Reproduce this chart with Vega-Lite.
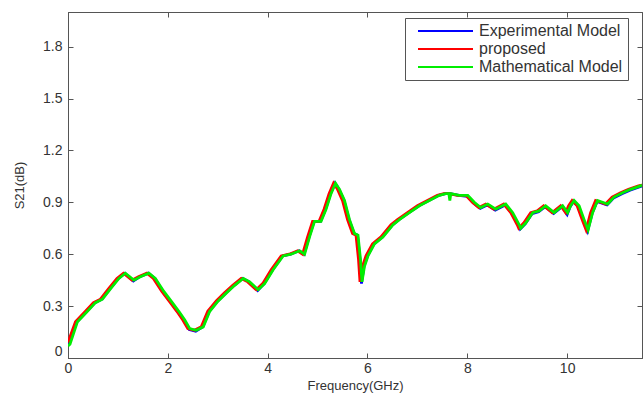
{
  "$schema": "https://vega.github.io/schema/vega-lite/v6.json",
  "width": 574,
  "height": 346,
  "autosize": {"type": "none"},
  "padding": {"left": 68, "top": 12, "right": 1, "bottom": 38},
  "background": "white",
  "config": {
    "view": {"stroke": "#555", "strokeWidth": 1},
    "font": "Liberation Sans",
    "axis": {"domainColor": "#555", "tickColor": "#555", "labelColor": "#333", "titleColor": "#333", "labelFont": "Liberation Sans", "titleFont": "Liberation Sans", "labelFontSize": 14, "titleFontSize": 13, "titleFontWeight": "normal", "grid": false, "tickSize": -5}
  },
  "datasets": {
    "math": [
      {"f":0,"v":0.07},{"f":0.04,"v":0.08},{"f":0.19,"v":0.21},{"f":0.39,"v":0.27},{"f":0.55,"v":0.32},{"f":0.69,"v":0.34},{"f":0.85,"v":0.40},{"f":1.02,"v":0.46},{"f":1.15,"v":0.49},{"f":1.32,"v":0.45},{"f":1.45,"v":0.47},{"f":1.62,"v":0.49},{"f":1.75,"v":0.46},{"f":1.92,"v":0.385},{"f":2.09,"v":0.32},{"f":2.22,"v":0.27},{"f":2.34,"v":0.22},{"f":2.44,"v":0.17},{"f":2.57,"v":0.16},{"f":2.71,"v":0.18},{"f":2.84,"v":0.27},{"f":3.01,"v":0.33},{"f":3.17,"v":0.375},{"f":3.34,"v":0.42},{"f":3.51,"v":0.46},{"f":3.64,"v":0.44},{"f":3.81,"v":0.395},{"f":3.94,"v":0.43},{"f":4.11,"v":0.51},{"f":4.31,"v":0.59},{"f":4.47,"v":0.60},{"f":4.64,"v":0.62},{"f":4.74,"v":0.60},{"f":4.84,"v":0.70},{"f":4.94,"v":0.79},{"f":5.07,"v":0.79},{"f":5.17,"v":0.86},{"f":5.27,"v":0.95},{"f":5.36,"v":1.01},{"f":5.44,"v":0.975},{"f":5.54,"v":0.91},{"f":5.64,"v":0.80},{"f":5.74,"v":0.72},{"f":5.81,"v":0.71},{"f":5.86,"v":0.57},{"f":5.89,"v":0.44},{"f":5.94,"v":0.53},{"f":6.01,"v":0.59},{"f":6.14,"v":0.66},{"f":6.31,"v":0.70},{"f":6.51,"v":0.77},{"f":6.64,"v":0.80},{"f":6.84,"v":0.84},{"f":7.04,"v":0.88},{"f":7.24,"v":0.91},{"f":7.44,"v":0.94},{"f":7.57,"v":0.95},{"f":7.63,"v":0.95},{"f":7.65,"v":0.91},{"f":7.67,"v":0.95},{"f":7.84,"v":0.94},{"f":8.01,"v":0.94},{"f":8.14,"v":0.90},{"f":8.27,"v":0.87},{"f":8.41,"v":0.89},{"f":8.57,"v":0.86},{"f":8.77,"v":0.89},{"f":8.91,"v":0.84},{"f":9.04,"v":0.77},{"f":9.07,"v":0.75},{"f":9.17,"v":0.78},{"f":9.31,"v":0.84},{"f":9.44,"v":0.85},{"f":9.57,"v":0.88},{"f":9.74,"v":0.84},{"f":9.91,"v":0.88},{"f":10.01,"v":0.84},{"f":10.07,"v":0.88},{"f":10.14,"v":0.91},{"f":10.24,"v":0.88},{"f":10.34,"v":0.80},{"f":10.42,"v":0.74},{"f":10.51,"v":0.84},{"f":10.61,"v":0.91},{"f":10.71,"v":0.90},{"f":10.81,"v":0.89},{"f":10.94,"v":0.93},{"f":11.11,"v":0.955},{"f":11.27,"v":0.975},{"f":11.47,"v":0.995},{"f":11.5,"v":1.0}
    ],
    "prop": [
      {"f":0,"v":0.09},{"f":0.15,"v":0.21},{"f":0.35,"v":0.27},{"f":0.51,"v":0.32},{"f":0.65,"v":0.34},{"f":0.81,"v":0.40},{"f":0.98,"v":0.46},{"f":1.11,"v":0.49},{"f":1.28,"v":0.45},{"f":1.41,"v":0.47},{"f":1.58,"v":0.49},{"f":1.71,"v":0.46},{"f":1.88,"v":0.385},{"f":2.05,"v":0.32},{"f":2.18,"v":0.27},{"f":2.30,"v":0.22},{"f":2.40,"v":0.17},{"f":2.53,"v":0.16},{"f":2.67,"v":0.18},{"f":2.80,"v":0.27},{"f":2.97,"v":0.33},{"f":3.13,"v":0.375},{"f":3.30,"v":0.42},{"f":3.47,"v":0.46},{"f":3.60,"v":0.44},{"f":3.77,"v":0.395},{"f":3.90,"v":0.43},{"f":4.07,"v":0.51},{"f":4.27,"v":0.59},{"f":4.43,"v":0.60},{"f":4.60,"v":0.62},{"f":4.70,"v":0.60},{"f":4.80,"v":0.70},{"f":4.90,"v":0.79},{"f":5.03,"v":0.79},{"f":5.13,"v":0.86},{"f":5.23,"v":0.95},{"f":5.32,"v":1.01},{"f":5.40,"v":0.975},{"f":5.50,"v":0.91},{"f":5.60,"v":0.80},{"f":5.70,"v":0.72},{"f":5.77,"v":0.71},{"f":5.82,"v":0.57},{"f":5.85,"v":0.44},{"f":5.90,"v":0.53},{"f":5.97,"v":0.59},{"f":6.10,"v":0.66},{"f":6.27,"v":0.70},{"f":6.47,"v":0.77},{"f":6.60,"v":0.80},{"f":6.80,"v":0.84},{"f":7.00,"v":0.88},{"f":7.20,"v":0.91},{"f":7.40,"v":0.94},{"f":7.53,"v":0.95},{"f":7.63,"v":0.95},{"f":7.80,"v":0.94},{"f":7.97,"v":0.94},{"f":8.10,"v":0.90},{"f":8.23,"v":0.87},{"f":8.37,"v":0.89},{"f":8.53,"v":0.86},{"f":8.73,"v":0.89},{"f":8.87,"v":0.84},{"f":9.00,"v":0.77},{"f":9.03,"v":0.75},{"f":9.13,"v":0.78},{"f":9.27,"v":0.84},{"f":9.40,"v":0.85},{"f":9.53,"v":0.88},{"f":9.70,"v":0.84},{"f":9.87,"v":0.88},{"f":9.97,"v":0.84},{"f":10.03,"v":0.88},{"f":10.10,"v":0.91},{"f":10.20,"v":0.88},{"f":10.30,"v":0.80},{"f":10.38,"v":0.74},{"f":10.47,"v":0.84},{"f":10.57,"v":0.91},{"f":10.67,"v":0.90},{"f":10.77,"v":0.89},{"f":10.90,"v":0.93},{"f":11.07,"v":0.955},{"f":11.23,"v":0.975},{"f":11.43,"v":0.995},{"f":11.5,"v":1.0}
    ],
    "exp": [
      {"f":0,"v":0.075},{"f":0.18,"v":0.21},{"f":0.38,"v":0.27},{"f":0.54,"v":0.32},{"f":0.68,"v":0.34},{"f":0.84,"v":0.40},{"f":1.01,"v":0.46},{"f":1.14,"v":0.49},{"f":1.31,"v":0.445},{"f":1.44,"v":0.47},{"f":1.61,"v":0.49},{"f":1.74,"v":0.46},{"f":1.91,"v":0.38},{"f":2.08,"v":0.315},{"f":2.21,"v":0.265},{"f":2.33,"v":0.215},{"f":2.43,"v":0.165},{"f":2.56,"v":0.155},{"f":2.70,"v":0.18},{"f":2.83,"v":0.27},{"f":3.00,"v":0.33},{"f":3.16,"v":0.375},{"f":3.33,"v":0.42},{"f":3.50,"v":0.46},{"f":3.63,"v":0.44},{"f":3.80,"v":0.39},{"f":3.93,"v":0.43},{"f":4.10,"v":0.51},{"f":4.30,"v":0.59},{"f":4.46,"v":0.60},{"f":4.63,"v":0.62},{"f":4.73,"v":0.60},{"f":4.83,"v":0.70},{"f":4.93,"v":0.79},{"f":5.06,"v":0.79},{"f":5.16,"v":0.86},{"f":5.26,"v":0.95},{"f":5.35,"v":1.01},{"f":5.43,"v":0.975},{"f":5.53,"v":0.91},{"f":5.63,"v":0.80},{"f":5.73,"v":0.72},{"f":5.80,"v":0.71},{"f":5.85,"v":0.57},{"f":5.88,"v":0.43},{"f":5.93,"v":0.53},{"f":6.00,"v":0.59},{"f":6.13,"v":0.66},{"f":6.30,"v":0.70},{"f":6.50,"v":0.77},{"f":6.63,"v":0.80},{"f":6.83,"v":0.84},{"f":7.03,"v":0.88},{"f":7.23,"v":0.91},{"f":7.43,"v":0.94},{"f":7.56,"v":0.95},{"f":7.66,"v":0.95},{"f":7.83,"v":0.94},{"f":8.00,"v":0.935},{"f":8.13,"v":0.895},{"f":8.26,"v":0.865},{"f":8.40,"v":0.885},{"f":8.56,"v":0.855},{"f":8.76,"v":0.885},{"f":8.90,"v":0.835},{"f":9.03,"v":0.765},{"f":9.06,"v":0.745},{"f":9.16,"v":0.775},{"f":9.30,"v":0.835},{"f":9.43,"v":0.845},{"f":9.56,"v":0.875},{"f":9.73,"v":0.835},{"f":9.90,"v":0.875},{"f":10.00,"v":0.83},{"f":10.06,"v":0.875},{"f":10.13,"v":0.905},{"f":10.23,"v":0.875},{"f":10.33,"v":0.795},{"f":10.41,"v":0.735},{"f":10.50,"v":0.835},{"f":10.60,"v":0.905},{"f":10.70,"v":0.895},{"f":10.80,"v":0.885},{"f":10.93,"v":0.925},{"f":11.10,"v":0.95},{"f":11.26,"v":0.97},{"f":11.46,"v":0.99},{"f":11.5,"v":0.995}
    ],
    "frame": [{"f":0,"v":0}]
  },
  "resolve": {"axis": {"x": "independent", "y": "independent"}},
  "layer": [
    {
      "data": {"name": "exp"},
      "mark": {"type": "line", "strokeWidth": 2.8, "clip": true},
      "encoding": {
        "x": {"field": "f", "type": "quantitative", "scale": {"domain": [0, 11.5], "nice": false, "zero": false},
              "axis": {"orient": "bottom", "values": [0,2,4,6,8,10], "title": "Frequency(GHz)", "labelFlush": false, "labelPadding": 8, "titlePadding": 4}},
        "y": {"field": "v", "type": "quantitative", "scale": {"domain": [0, 2.0], "nice": false},
              "axis": {"orient": "left", "values": [0,0.3,0.6,0.9,1.2,1.5,1.8], "labelExpr": "datum.value == 0 ? '0' : format(datum.value, '.1f')", "labelFlush": true, "title": "S21(dB)", "labelPadding": 11, "titlePadding": 16}},
        "color": {"datum": "Experimental Model", "type": "nominal",
                  "scale": {"domain": ["Experimental Model", "proposed", "Mathematical Model"], "range": ["#0000ff", "#ff0000", "#00ee00"]},
                  "legend": {"title": null, "orient": "none", "legendX": 337, "legendY": 6, "symbolType": "M0,0H10", "symbolSize": 121, "symbolStrokeWidth": 2, "labelFontSize": 16, "labelFont": "Liberation Sans", "labelColor": "#333", "strokeColor": "#555", "fillColor": "#ffffff", "padding": 5, "rowPadding": 2, "labelOffset": 53}}
      }
    },
    {
      "data": {"name": "prop"},
      "mark": {"type": "line", "strokeWidth": 2.8, "clip": true},
      "encoding": {
        "x": {"field": "f", "type": "quantitative", "axis": null},
        "y": {"field": "v", "type": "quantitative", "axis": null},
        "color": {"datum": "proposed", "type": "nominal"}
      }
    },
    {
      "data": {"name": "math"},
      "mark": {"type": "line", "strokeWidth": 2.8, "clip": true},
      "encoding": {
        "x": {"field": "f", "type": "quantitative", "axis": null},
        "y": {"field": "v", "type": "quantitative", "axis": null},
        "color": {"datum": "Mathematical Model", "type": "nominal"}
      }
    },
    {
      "data": {"name": "frame"},
      "mark": {"type": "point", "opacity": 0},
      "encoding": {
        "x": {"field": "f", "type": "quantitative", "axis": {"orient": "top", "values": [0,2,4,6,8,10], "labels": false, "title": null}},
        "y": {"field": "v", "type": "quantitative", "axis": {"orient": "right", "values": [0,0.3,0.6,0.9,1.2,1.5,1.8], "labels": false, "title": null}}
      }
    }
  ]
}
